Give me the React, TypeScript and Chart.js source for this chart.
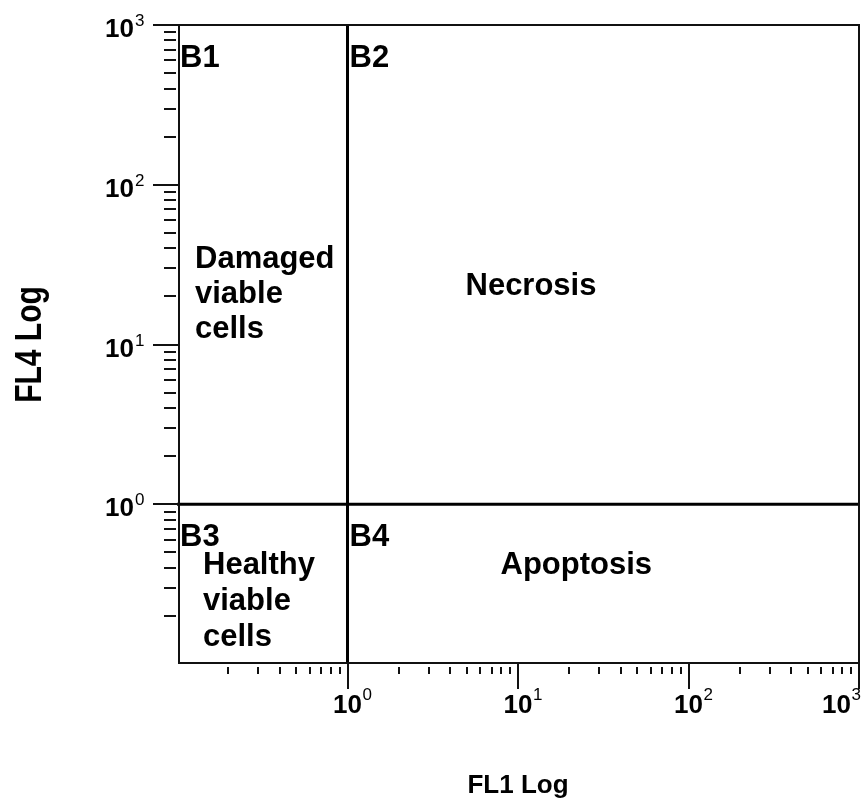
import { useEffect, useRef } from "react";
import { Chart, registerables } from "chart.js";

Chart.register(...registerables);

// ---- data ----
const xMin = 0.1;
const xMax = 1000;
const yMin = 0.1;
const yMax = 1000;
const gateX = 1; // FL1 gate
const gateY = 1; // FL4 gate
const xDecadeExponents = [-1, 0, 1, 2];
const yDecadeExponents = [-1, 0, 1, 2];
const xLabelExponents = [0, 1, 2, 3];
const yLabelExponents = [0, 1, 2, 3];
const minorMultipliers = [2, 3, 4, 5, 6, 7, 8, 9];
const quadrantIds = ["B1", "B2", "B3", "B4"];
const regionNames = [
  ["Damaged", "viable", "cells"],
  ["Necrosis"],
  ["Healthy", "viable", "cells"],
  ["Apoptosis"],
];
const xTitle = "FL1 Log";
const yTitle = "FL4 Log";

const FONT = '"Liberation Sans", Arial, Helvetica, sans-serif';

const flowPlugin = {
  id: "flowLayout",
  afterDraw(chart: any) {
    const ctx: CanvasRenderingContext2D = chart.ctx;
    const xs = chart.scales.x;
    const ys = chart.scales.y;
    const L = xs.getPixelForValue(xMin);
    const R = xs.getPixelForValue(xMax);
    const T = ys.getPixelForValue(yMax);
    const B = ys.getPixelForValue(yMin);
    const ax = Math.round(L + 2);
    const ay = Math.round(B - 1);
    const gx = xs.getPixelForValue(gateX);
    const gy = ys.getPixelForValue(gateY);
    const W = chart.width;

    ctx.save();
    // frame
    ctx.strokeStyle = "#111";
    ctx.lineWidth = 2;
    ctx.beginPath();
    ctx.moveTo(ax, Math.round(T));
    ctx.lineTo(Math.round(R), Math.round(T));
    ctx.lineTo(Math.round(R), ay);
    ctx.lineTo(ax, ay);
    ctx.closePath();
    ctx.stroke();

    // ticks
    ctx.beginPath();
    for (const e of yLabelExponents) {
      const y = Math.round(ys.getPixelForValue(Math.pow(10, e)));
      ctx.moveTo(ax - 26, y);
      ctx.lineTo(ax, y);
    }
    for (const e of yDecadeExponents) {
      for (const m of minorMultipliers) {
        const y = Math.round(ys.getPixelForValue(m * Math.pow(10, e)));
        ctx.moveTo(ax - 15, y);
        ctx.lineTo(ax - 3, y);
      }
    }
    for (const e of xLabelExponents) {
      const x = Math.round(xs.getPixelForValue(Math.pow(10, e)));
      ctx.moveTo(x, ay);
      ctx.lineTo(x, ay + 26);
    }
    for (const e of xDecadeExponents) {
      for (const m of minorMultipliers) {
        const x = Math.round(xs.getPixelForValue(m * Math.pow(10, e)));
        ctx.moveTo(x, ay + 4);
        ctx.lineTo(x, ay + 11);
      }
    }
    ctx.stroke();

    // tick labels
    ctx.fillStyle = "#000";
    ctx.textBaseline = "alphabetic";
    for (const e of yLabelExponents) {
      const y = ys.getPixelForValue(Math.pow(10, e));
      ctx.font = `bold 26px ${FONT}`;
      ctx.textAlign = "right";
      ctx.fillText("10", ax - 45, y + 12);
      ctx.font = `17px ${FONT}`;
      ctx.textAlign = "left";
      ctx.fillText(String(e), ax - 44, y + 1);
    }
    for (const e of xLabelExponents) {
      let x = xs.getPixelForValue(Math.pow(10, e));
      ctx.font = `17px ${FONT}`;
      const ew = ctx.measureText(String(e)).width;
      const overflow = x + 15 + ew - (W - 1);
      if (overflow > 0) x -= overflow;
      ctx.font = `bold 26px ${FONT}`;
      ctx.textAlign = "center";
      ctx.fillText("10", x, ay + 50);
      ctx.font = `17px ${FONT}`;
      ctx.textAlign = "left";
      ctx.fillText(String(e), x + 15, ay + 37);
    }

    // quadrant ids
    ctx.font = `bold 31px ${FONT}`;
    ctx.textAlign = "left";
    const qOrigins = [
      [ax + 1, T],
      [gx + 2, T],
      [ax + 1, gy],
      [gx + 2, gy],
    ];
    quadrantIds.forEach((id, i) => {
      ctx.fillText(id, qOrigins[i][0], qOrigins[i][1] + 42);
    });

    // region names
    const nameLayout = [
      { x: ax + 16, y: T + 243, lh: 35 },
      { x: gx + 118, y: T + 270, lh: 35 },
      { x: ax + 24, y: gy + 70, lh: 36 },
      { x: gx + 153, y: gy + 70, lh: 36 },
    ];
    regionNames.forEach((lines, i) => {
      const p = nameLayout[i];
      lines.forEach((line, j) => ctx.fillText(line, p.x, p.y + j * p.lh));
    });

    // axis titles
    ctx.font = `bold 26px ${FONT}`;
    ctx.textAlign = "center";
    ctx.fillText(xTitle, (L + R) / 2, 793);

    ctx.save();
    ctx.translate(41, (T + B) / 2);
    ctx.rotate(-Math.PI / 2);
    ctx.scale(1, 1.2);
    ctx.font = `bold 30px ${FONT}`;
    ctx.textAlign = "center";
    ctx.fillText(yTitle, 0, 0);
    ctx.restore();

    ctx.restore();
  },
};

export default function App() {
  const ref = useRef<HTMLCanvasElement>(null);
  useEffect(() => {
    const canvas = ref.current;
    if (!canvas) return;
    const chart = new Chart(canvas, {
      type: "scatter",
      data: {
        datasets: [
          {
            data: [
              { x: gateX, y: yMin },
              { x: gateX, y: yMax },
            ],
            showLine: true,
            borderColor: "#000",
            borderWidth: 3,
            pointRadius: 0,
            clip: false as any,
          },
          {
            data: [
              { x: xMin, y: gateY },
              { x: xMax, y: gateY },
            ],
            showLine: true,
            borderColor: "#000",
            borderWidth: 3,
            pointRadius: 0,
            clip: false as any,
          },
        ],
      },
      options: {
        responsive: false,
        animation: false,
        devicePixelRatio: 1,
        events: [],
        layout: { padding: { left: 177, right: 3, top: 25, bottom: 135 } },
        scales: {
          x: { type: "logarithmic", min: xMin, max: xMax, display: false },
          y: { type: "logarithmic", min: yMin, max: yMax, display: false },
        },
        plugins: { legend: { display: false }, tooltip: { enabled: false } },
      },
      plugins: [flowPlugin],
    });
    return () => chart.destroy();
  }, []);
  return (
    <div style={{ position: "fixed", left: 0, top: 0, width: 862, height: 799, background: "#fff" }}>
      <canvas ref={ref} width={862} height={799} style={{ display: "block" }} />
    </div>
  );
}
